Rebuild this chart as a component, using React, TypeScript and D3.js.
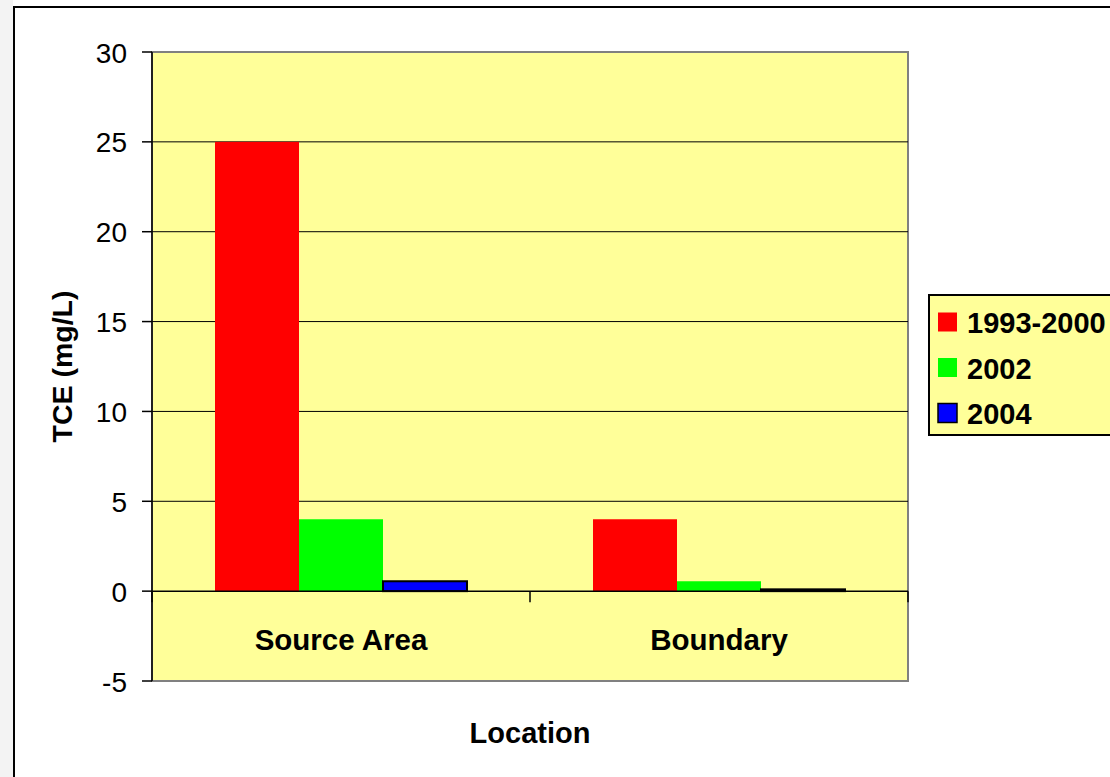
import * as d3 from "d3";

const categories = ["Source Area", "Boundary"];
const seriesNames = ["1993-2000", "2002", "2004"];
const seriesColors = ["#FF0000", "#00FF00", "#0000FF"];
const values1993 = [25, 4];
const values2002 = [4, 0.55];
const values2004 = [0.55, 0.1];
const yTicks = [-5, 0, 5, 10, 15, 20, 25, 30];

const App = () => {
  const width = 1110;
  const height = 777;
  // plot area
  const left = 152;
  const right = 908;
  const top = 52;
  const bottom = 681;

  const series = [values1993, values2002, values2004];

  const y = d3.scaleLinear().domain([-5, 30]).range([bottom, top]);
  const x0 = d3.scaleBand().domain(categories).range([left, right]);
  // gap width 150% -> bars take 3 / 4.5 of each category
  const barW = x0.bandwidth() / 4.5;
  const x1 = d3.scaleBand().domain(seriesNames).range([0, barW * 3]);

  const font = "Arial, 'Liberation Sans', sans-serif";

  return (
    <svg width={width} height={height} style={{position: "absolute", left: 0, top: 0}} fontFamily={font}>
      <rect x={0} y={0} width={width} height={height} fill="#fff"/>
      <rect x={0} y={0} width={13} height={height} fill="#f3f3f3"/>
      {/* chart frame */}
      <rect x={14} y={7} width={width + 20} height={height + 20} fill="#fff" stroke="#000" strokeWidth={2}/>

      {/* plot area */}
      <rect x={left} y={top} width={right - left} height={bottom - top} fill="#FFFF99" stroke="#808080" strokeWidth={2}/>

      {/* gridlines */}
      {yTicks.filter(t => t !== -5 && t !== 30 && t !== 0).map(t => (
        <line key={t} x1={left} x2={right} y1={y(t)} y2={y(t)} stroke="#000" strokeWidth={1}/>
      ))}

      {/* bars */}
      {categories.map((c, i) => (
        <g key={c} transform={`translate(${x0(c)! + (x0.bandwidth() - barW * 3) / 2},0)`}>
          {series.map((s, j) => {
            const v = s[i];
            return (
              <rect key={j} x={x1(seriesNames[j])} y={y(v)} width={x1.bandwidth()}
                    height={y(0) - y(v)} fill={seriesColors[j]}
                    stroke={j === 2 ? "#000" : "none"} strokeWidth={j === 2 ? 2 : 0}/>
            );
          })}
        </g>
      ))}

      {/* value axis */}
      <line x1={left} x2={left} y1={top} y2={bottom} stroke="#000" strokeWidth={1.5}/>
      {yTicks.map(t => (
        <g key={t}>
          <line x1={left - 10} x2={left} y1={y(t)} y2={y(t)} stroke="#000" strokeWidth={1.5}/>
          <text x={127} y={y(t) + 1} textAnchor="end" dominantBaseline="central" fontSize={28}>{t}</text>
        </g>
      ))}

      {/* category axis */}
      <line x1={left} x2={right} y1={y(0)} y2={y(0)} stroke="#000" strokeWidth={1.5}/>
      {[left, ...categories.map(c => x0(c)! + x0.bandwidth())].map((px, i) => (
        <line key={i} x1={px} x2={px} y1={y(0)} y2={y(0) + 11} stroke="#000" strokeWidth={1.5}/>
      ))}
      {categories.map(c => (
        <text key={c} x={x0(c)! + x0.bandwidth() / 2} y={639} textAnchor="middle" dominantBaseline="central"
              fontSize={29.5} fontWeight="bold">{c}</text>
      ))}

      {/* axis titles */}
      <text x={530} y={733} textAnchor="middle" dominantBaseline="central" fontSize={29} fontWeight="bold">Location</text>
      <text transform={`translate(62,${(top + bottom) / 2}) rotate(-90)`} textAnchor="middle"
            dominantBaseline="central" fontSize={28.5} fontWeight="bold">TCE (mg/L)</text>

      {/* legend */}
      <rect x={929} y={295} width={200} height={140} fill="#FFFF99" stroke="#000" strokeWidth={2}/>
      {seriesNames.map((n, j) => (
        <g key={n} transform={`translate(0,${322 + j * 45.5})`}>
          <rect x={938} y={-9.5} width={19} height={19} fill={seriesColors[j]}
                stroke={j === 2 ? "#000" : "none"} strokeWidth={1.5}/>
          <text x={967} y={1} dominantBaseline="central" fontSize={29} fontWeight="bold">{n}</text>
        </g>
      ))}
    </svg>
  );
};

export default App;
